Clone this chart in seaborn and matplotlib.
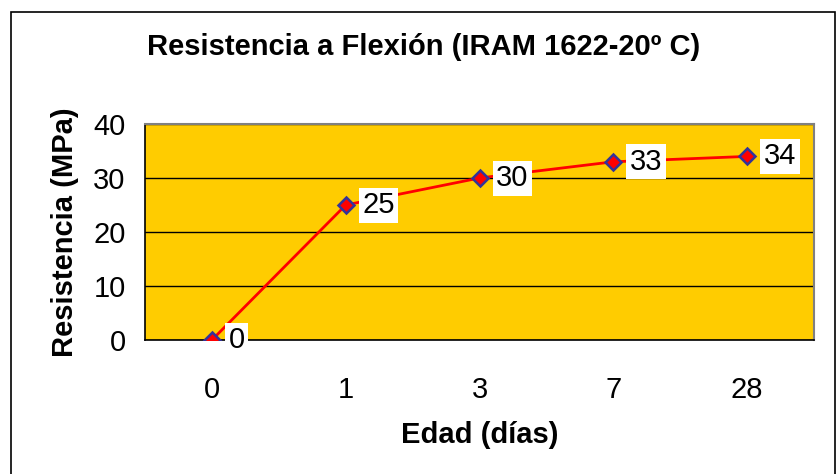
import pandas as pd
import seaborn as sns
import matplotlib
import matplotlib.pyplot as plt
from matplotlib.patches import Rectangle

sns.set_style('white')
matplotlib.rcParams['font.family'] = ['Liberation Sans', 'DejaVu Sans']
matplotlib.rcParams['text.color'] = 'black'
matplotlib.rcParams['axes.labelcolor'] = 'black'
matplotlib.rcParams['xtick.color'] = 'black'
matplotlib.rcParams['ytick.color'] = 'black'

# datos
edades = ['0', '1', '3', '7', '28']
resistencia = [0, 25, 30, 33, 34]

df = pd.DataFrame({'Edad': edades, 'Resistencia': resistencia})
df['pos'] = range(len(df))

fig = plt.figure(figsize=(8.38, 4.74), dpi=100)
fig.patch.set_facecolor('white')
fig.patches.append(Rectangle((11 / 838, -0.01), 824 / 838, 1 - 12 / 474 + 0.01,
                             transform=fig.transFigure, fill=False,
                             edgecolor='black', linewidth=1.2))

ax = fig.add_axes([145 / 838, (474 - 340) / 474, (814 - 145) / 838, (340 - 124) / 474])
ax.set_facecolor('#FFCC00')

sns.lineplot(data=df, x='pos', y='Resistencia', ax=ax, color='red', linewidth=2,
             marker='D', markersize=8, markerfacecolor='red',
             markeredgecolor='#333399', markeredgewidth=1.8, zorder=3)

for x, y in zip(df['pos'], df['Resistencia']):
    ax.annotate(str(y), (x, y), xytext=(12, 0), textcoords='offset points',
                ha='left', va='center', fontsize=21, color='black',
                bbox=dict(boxstyle='square,pad=0.12', facecolor='white', edgecolor='none'),
                zorder=4)

ax.set_xlim(-0.5, len(edades) - 0.5)
ax.set_ylim(0, 40)
ax.set_yticks([0, 10, 20, 30, 40])
ax.set_xticks(df['pos'])
ax.set_xticklabels(edades)
ax.set_xticks([i - 0.5 for i in range(len(edades) + 1)], minor=True)
ax.tick_params(axis='x', which='major', length=0, pad=26, labelsize=21)
ax.tick_params(axis='x', which='minor', length=8, width=1, direction='out', color='black')
ax.tick_params(axis='y', length=7, width=1, direction='out', color='black', labelsize=21, pad=7)
ax.yaxis.grid(True, color='black', linewidth=1)
ax.xaxis.grid(False)

for s in ['left', 'bottom']:
    ax.spines[s].set_color('black')
    ax.spines[s].set_linewidth(1.2)
for s in ['top', 'right']:
    ax.spines[s].set_color('#808080')
    ax.spines[s].set_linewidth(1.5)

ax.set_xlabel('Edad (días)', fontsize=21, fontweight='bold', labelpad=12)
ax.set_ylabel('Resistencia (MPa)', fontsize=21, fontweight='bold', labelpad=10)
fig.text(424 / 838, 1 - 47 / 474, 'Resistencia a Flexión (IRAM 1622-20º C)',
         ha='center', va='center', fontsize=21, fontweight='bold')

fig.savefig('out.png', dpi=100)
